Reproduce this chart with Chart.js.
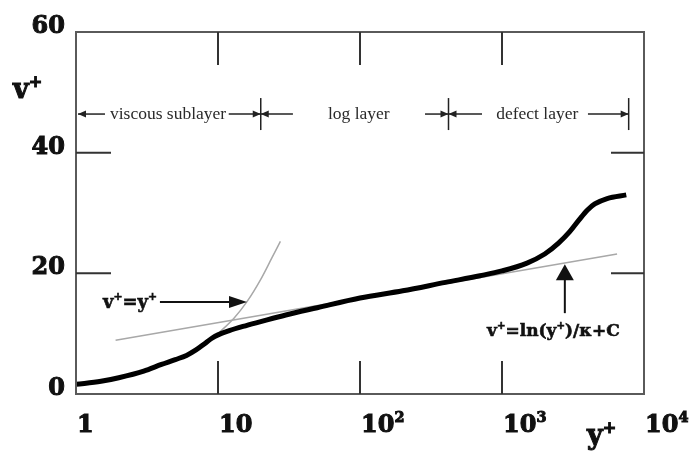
<!DOCTYPE html>
<html>
<head>
<meta charset="utf-8">
<script src="https://cdn.jsdelivr.net/npm/chart.js@4.4.1/dist/chart.umd.min.js"></script>
<style>
  html, body { margin: 0; padding: 0; background: #fff; }
  #wrap { width: 690px; height: 454px; }
</style>
</head>
<body>
<div id="wrap"><canvas id="chart" width="690" height="454"></canvas></div>
<script>
'use strict';

// Profil de vitesse (courbe épaisse)
const yPlus = [1, 1.5, 2, 3, 4, 5, 6, 7, 8, 9, 10, 12, 15, 20, 30, 50, 100, 200, 400, 700, 1000, 1500, 2000, 2500, 3000, 3500, 4000, 4500, 5500, 7500];
const vPlus = [1.6, 2.1, 2.7, 3.8, 4.9, 5.7, 6.4, 7.3, 8.3, 9.2, 9.8, 10.5, 11.2, 12.0, 13.1, 14.3, 15.9, 17.1, 18.5, 19.6, 20.4, 21.7, 23.2, 25.0, 26.9, 28.9, 30.5, 31.5, 32.4, 33.0];

// Sous-couche visqueuse : v+ = y+
const linearYPlus = [10, 13, 16, 20, 24, 27.5];
const linearV = [10, 12.6, 15.3, 19, 22.6, 25.3];

// Loi logarithmique
const logYPlus = [1.9, 6460];
const logV = [8.9, 23.2];

// Graduations
const xTicks = [1, 10, 100, 1000, 10000];
const xTickLabels = [['1', ''], ['10', ''], ['10', '2'], ['10', '3'], ['10', '4']];
const yTicks = [0, 20, 40, 60];
const yTickLabels = ['0', '20', '40', '60'];
const innerXTicks = [10, 100, 1000];
const innerYTicks = [20, 40];

const SERIF = '"Liberation Serif", "Times New Roman", serif';
const BOLD_SERIF = '"DejaVu Serif", "Liberation Serif", serif';

function toPoints(xs, ys) {
    return xs.map((x, i) => ({ x: x, y: ys[i] }));
}

// Texte avec exposants : pieces = [[texte, exposant?], ...]
function drawRich(ctx, pieces, x, y, size, align, heavy) {
    const supSize = size * 0.6;
    let width = 0;
    pieces.forEach(p => {
        ctx.font = `bold ${p[1] ? supSize : size}px ${BOLD_SERIF}`;
        width += ctx.measureText(p[0]).width;
    });
    let cx = x;
    if (align === 'right') cx = x - width;
    if (align === 'center') cx = x - width / 2;
    ctx.textAlign = 'left';
    ctx.textBaseline = 'alphabetic';
    ctx.lineWidth = heavy || 0;
    ctx.strokeStyle = ctx.fillStyle;
    pieces.forEach(p => {
        ctx.font = `bold ${p[1] ? supSize : size}px ${BOLD_SERIF}`;
        const ty = p[1] ? y - size * 0.42 : y;
        ctx.fillText(p[0], cx, ty);
        if (heavy) ctx.strokeText(p[0], cx, ty); // épaissir le trait
        cx += ctx.measureText(p[0]).width;
    });
}

function arrowHead(ctx, tx, ty, angle, len, half) {
    ctx.save();
    ctx.translate(tx, ty);
    ctx.rotate(angle);
    ctx.beginPath();
    ctx.moveTo(0, 0);
    ctx.lineTo(-len, -half);
    ctx.lineTo(-len, half);
    ctx.closePath();
    ctx.fill();
    ctx.restore();
}

function line(ctx, x1, y1, x2, y2) {
    ctx.beginPath();
    ctx.moveTo(x1, y1);
    ctx.lineTo(x2, y2);
    ctx.stroke();
}

const decorPlugin = {
    id: 'decor',
    afterDraw(chart) {
        const ctx = chart.ctx;
        const xs = chart.scales.x;
        const ys = chart.scales.y;
        const a = chart.chartArea;
        const px = v => xs.getPixelForValue(v);
        const py = v => ys.getPixelForValue(v);

        ctx.save();
        // Cadre
        ctx.strokeStyle = '#5a5a5a';
        ctx.lineWidth = 2;
        ctx.strokeRect(a.left, a.top, a.right - a.left, a.bottom - a.top);

        // Graduations intérieures
        ctx.strokeStyle = '#333';
        innerXTicks.forEach(v => {
            line(ctx, px(v), a.bottom, px(v), a.bottom - 33);
            line(ctx, px(v), a.top, px(v), a.top + 33);
        });
        innerYTicks.forEach(v => {
            line(ctx, a.left, py(v), a.left + 35, py(v));
            line(ctx, a.right, py(v), a.right - 33, py(v));
        });

        // Étiquettes des axes
        ctx.fillStyle = '#111';
        xTicks.forEach((v, i) => {
            drawRich(ctx, [[xTickLabels[i][0], false], [xTickLabels[i][1], true]], px(v) + 1, 432, 24, 'left', 1);
        });
        yTicks.forEach((v, i) => {
            drawRich(ctx, [[yTickLabels[i], false]], 65, py(v) + 1, 24, 'right', 1);
        });
        drawRich(ctx, [['v', false], ['+', true]], 13, 98, 27, 'left', 1);
        drawRich(ctx, [['y', false], ['+', true]], 587, 444, 27, 'left', 1);

        // Zones de l'écoulement
        const rowY = py(46.4);
        ctx.strokeStyle = '#222';
        ctx.fillStyle = '#222';
        ctx.lineWidth = 1.5;
        [20, 420, 7800].forEach(v => line(ctx, px(v), rowY - 16, px(v), rowY + 16));
        const segs = [
            [1, 1.6, 'L'], [11.9, 20, 'R'],
            [20, 33.7, 'L'], [287, 420, 'R'],
            [420, 723, 'L'], [4030, 7800, 'R']
        ];
        segs.forEach(s => {
            const x1 = px(s[0]) + (s[0] === 1 ? 2 : 0);
            const x2 = px(s[1]);
            line(ctx, x1, rowY, x2, rowY);
            if (s[2] === 'L') arrowHead(ctx, x1, rowY, Math.PI, 8, 3.5);
            else arrowHead(ctx, x2, rowY, 0, 8, 3.5);
        });
        ctx.fillStyle = '#2a2a2a';
        ctx.font = `17.5px ${SERIF}`;
        ctx.textAlign = 'center';
        ctx.textBaseline = 'middle';
        ctx.fillText('viscous sublayer', px(4.45), rowY);
        ctx.fillText('log layer', px(98), rowY);
        ctx.fillText('defect layer', px(1770), rowY);

        // Légendes des lois
        ctx.fillStyle = '#111';
        ctx.strokeStyle = '#111';
        const ly = py(15.25);
        drawRich(ctx, [['v', false], ['+', true], ['=y', false], ['+', true]], px(1.55), ly + 6, 18, 'left', 0.6);
        ctx.lineWidth = 2;
        line(ctx, px(3.9), ly, px(16) - 14, ly);
        arrowHead(ctx, px(16), ly, 0, 18, 6);

        const ax = px(2770);
        line(ctx, ax, py(13.4), ax, py(21.5) + 12);
        arrowHead(ctx, ax, py(21.5), -Math.PI / 2, 16, 9);
        drawRich(ctx, [['v', false], ['+', true], ['=ln(y', false], ['+', true], [')/\u03ba+C', false]], px(2300), py(10.6) + 6, 17, 'center', 0.6);
        ctx.restore();
    }
};

const chartConfig = {
    type: 'line',
    data: {
        datasets: [{
            data: toPoints(yPlus, vPlus),
            borderColor: '#000',
            borderWidth: 5,
            pointRadius: 0,
            cubicInterpolationMode: 'monotone',
            fill: false,
            order: 0
        }, {
            data: toPoints(linearYPlus, linearV),
            borderColor: '#a8a8a8',
            borderWidth: 1.5,
            pointRadius: 0,
            cubicInterpolationMode: 'monotone',
            fill: false,
            order: 1
        }, {
            data: toPoints(logYPlus, logV),
            borderColor: '#a8a8a8',
            borderWidth: 1.5,
            pointRadius: 0,
            fill: false,
            order: 1
        }]
    },
    options: {
        responsive: false,
        animation: false,
        layout: { padding: { left: 76, right: 46, top: 32, bottom: 60 } },
        plugins: { legend: { display: false }, tooltip: { enabled: false } },
        scales: {
            x: { type: 'logarithmic', min: 1, max: 10000, display: false },
            y: { type: 'linear', min: 0, max: 60, display: false }
        }
    },
    plugins: [decorPlugin]
};

new Chart(document.getElementById('chart'), chartConfig);
</script>
</body>
</html>
